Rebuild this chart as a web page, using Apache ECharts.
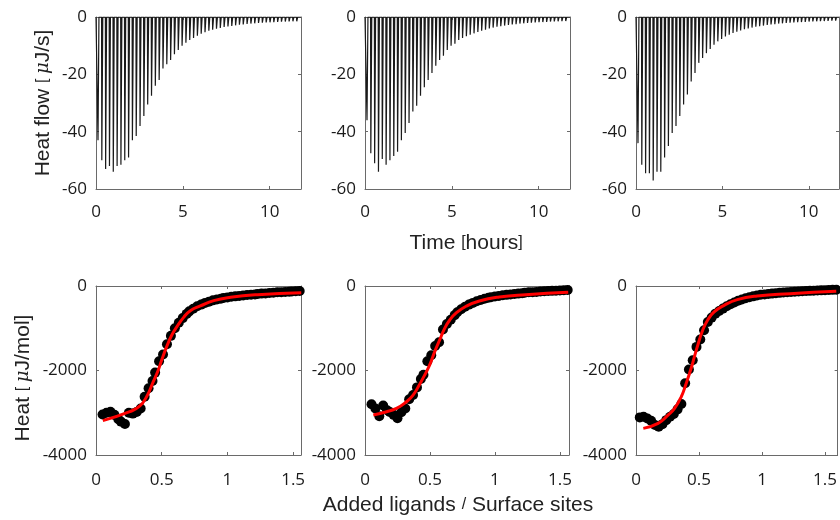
<!DOCTYPE html>
<html><head><meta charset="utf-8">
<script src="https://cdn.jsdelivr.net/npm/echarts@6/dist/echarts.min.js"></script>
<style>html,body{margin:0;padding:0;background:#fff}#c{width:840px;height:520px}</style>
</head><body><div id="c"></div>
<script>
// ---- Raw ITC thermograms (time in hours, heat flow in µJ/s) ----
const injectionTimes = [0.10,0.32,0.54,0.76,0.98,1.20,1.42,1.64,1.86,2.08,2.30,2.52,2.74,2.96,3.18,3.40,3.62,3.84,4.06,4.28,4.50,4.72,4.94,5.16,5.38,5.60,5.82,6.04,6.26,6.48,6.70,6.92,7.14,7.36,7.58,7.80,8.02,8.24,8.46,8.68,8.90,9.12,9.34,9.56,9.78,10.00,10.22,10.44,10.66,10.88,11.10,11.32,11.54];
const flowPeaks1 = [-43,-50,-53,-52,-54,-52,-51.5,-50,-49,-43,-41.5,-38,-34.5,-30.5,-27.5,-24,-22,-18,-16.5,-15,-13,-11.5,-10,-9,-8,-7.3,-6.5,-5.8,-5.3,-4.8,-4.4,-4.1,-3.8,-3.5,-3.3,-3.1,-2.9,-2.7,-2.6,-2.4,-2.3,-2.2,-2.1,-2.0,-1.9,-1.85,-1.8,-1.7,-1.65,-1.6,-1.55,-1.5,-1.5];
const flowPeaks2 = [-36,-47.5,-51,-54,-49.5,-51.5,-50,-48.5,-47,-43,-40.5,-37,-33,-31,-27.5,-24.5,-22,-19.5,-17,-15,-13.5,-11.5,-10,-9.3,-8,-7.3,-6.7,-6.2,-5.7,-5.2,-4.8,-4.4,-4.0,-3.7,-3.4,-3.2,-3.0,-2.8,-2.6,-2.5,-2.3,-2.2,-2.1,-2.0,-1.9,-1.8,-1.75,-1.7,-1.6,-1.55,-1.5,-1.45,-1.4];
const flowPeaks3 = [-44,-51.5,-54.5,-54.5,-57,-54,-54,-49,-45,-40.5,-38,-34.5,-30.5,-27,-22.5,-19.5,-16,-14.3,-12.6,-11.2,-9.7,-8.5,-7.7,-6.8,-6.2,-5.6,-5.1,-4.7,-4.3,-4.0,-3.7,-3.4,-3.2,-3.0,-2.8,-2.6,-2.5,-2.3,-2.2,-2.1,-2.0,-1.9,-1.8,-1.75,-1.7,-1.6,-1.55,-1.5,-1.45,-1.4,-1.35,-1.3,-1.3];

// ---- Integrated heats (molar ratio, µJ/mol) ----
const ratio1 = [0.05,0.08,0.11,0.14,0.17,0.19,0.22,0.25,0.28,0.31,0.34,0.37,0.40,0.43,0.45,0.48,0.51,0.54,0.57,0.60,0.63,0.66,0.69,0.71,0.74,0.77,0.80,0.83,0.86,0.89,0.92,0.95,0.97,1.00,1.03,1.06,1.09,1.12,1.15,1.18,1.21,1.23,1.26,1.29,1.32,1.35,1.38,1.41,1.44,1.47,1.49,1.52,1.55];
const heat1 = [-3040,-3000,-2975,-3050,-3155,-3210,-3265,-3000,-3020,-2980,-2900,-2620,-2420,-2250,-2050,-1780,-1620,-1380,-1180,-1000,-870,-760,-660,-600,-540,-480,-440,-400,-370,-340,-320,-300,-285,-270,-255,-245,-235,-225,-215,-205,-200,-190,-180,-175,-165,-160,-150,-145,-140,-135,-130,-125,-120];
const ratio2 = [0.05,0.08,0.11,0.14,0.17,0.19,0.22,0.25,0.28,0.31,0.34,0.37,0.40,0.43,0.45,0.48,0.51,0.54,0.57,0.60,0.63,0.66,0.69,0.71,0.74,0.77,0.80,0.83,0.86,0.89,0.92,0.95,0.97,1.00,1.03,1.06,1.09,1.12,1.15,1.18,1.21,1.23,1.26,1.29,1.32,1.35,1.38,1.41,1.44,1.47,1.50,1.53,1.56];
const heat2 = [-2800,-2900,-3080,-2830,-2940,-2980,-3050,-3130,-2990,-2900,-2680,-2580,-2400,-2200,-2100,-1780,-1640,-1420,-1330,-1030,-900,-800,-690,-620,-550,-490,-440,-400,-360,-330,-300,-280,-265,-250,-235,-220,-210,-200,-190,-180,-170,-160,-150,-145,-140,-130,-125,-120,-115,-110,-105,-100,-95];
const ratio3 = [0.03,0.06,0.09,0.12,0.15,0.18,0.21,0.24,0.27,0.30,0.33,0.36,0.39,0.42,0.45,0.48,0.51,0.54,0.57,0.60,0.63,0.66,0.69,0.72,0.75,0.78,0.81,0.84,0.87,0.90,0.93,0.96,0.99,1.02,1.05,1.08,1.11,1.14,1.17,1.20,1.23,1.26,1.29,1.32,1.35,1.38,1.41,1.44,1.47,1.50,1.53,1.56,1.59];
const heat3 = [-3110,-3095,-3135,-3190,-3290,-3330,-3270,-3175,-3095,-3030,-2920,-2795,-2300,-1976,-1756,-1441,-1268,-1047,-850,-748,-654,-590,-535,-480,-430,-390,-350,-320,-290,-265,-245,-225,-205,-200,-190,-180,-170,-162,-155,-148,-141,-135,-130,-125,-120,-115,-111,-107,-103,-99,-95,-91,-88];

// ---- Fitted curves (red) ----
const fitX1 = [0.052,0.257,0.334,0.385,0.436,0.474,0.50,0.538,0.577,0.616,0.667,0.718,0.794,0.896,1.024,1.229,1.562];
const fitY1 = [-3187,-2974,-2840,-2619,-2264,-1988,-1751,-1436,-1160,-962,-742,-584,-473,-347,-268,-205,-158];
const fitX2 = [0.064,0.166,0.242,0.319,0.370,0.421,0.459,0.497,0.536,0.574,0.612,0.651,0.702,0.778,0.880,1.033,1.237,1.564];
const fitY2 = [-3055,-2976,-2898,-2740,-2583,-2323,-2110,-1874,-1559,-1283,-1008,-811,-638,-480,-354,-260,-205,-150];
const fitX3 = [0.058,0.175,0.254,0.306,0.359,0.398,0.437,0.463,0.490,0.529,0.568,0.620,0.699,0.804,0.961,1.223,1.589];
const fitY3 = [-3370,-3252,-3055,-2898,-2622,-2307,-1953,-1677,-1402,-1047,-811,-614,-457,-323,-236,-181,-126];

// ---- Axis settings ----
const timeMax = [11.8, 11.8, 11.75];
const ratioMax = [1.56, 1.57, 1.6];
const timeInterval = 5, flowMin = -60, flowInterval = 20;
const ratioInterval = 0.5, heatMin = -4000, heatInterval = 2000;

const LBL_FONT = '"Open Sans", "DejaVu Sans", sans-serif';
const TTL_FONT = '"Liberation Sans", Arial, sans-serif';
const AX = '#6a6a6a';

const topGrids = [{left:96,width:205},{left:365,width:205},{left:636,width:203}];
const botGrids = [{left:96,width:205},{left:365,width:204},{left:636,width:203}];

const grid = [], xAxis = [], yAxis = [], series = [];
const plain = v => String(v);

function addPanel(g, top, height, xmax, xint, ymin, yint, xMargin) {
  const gi = grid.length;
  grid.push({left:g.left, width:g.width, top:top, height:height, containLabel:false});
  const tick = {show:true, inside:true, length:3, lineStyle:{color:AX, width:1}};
  const line = {show:true, onZero:false, lineStyle:{color:AX, width:1}};
  const lbl = {color:'#1a1a1a', fontFamily:LBL_FONT, fontSize:17, formatter:plain};
  xAxis.push({type:'value', gridIndex:gi, position:'bottom', min:0, max:xmax, interval:xint,
    axisLine:line, axisTick:tick, splitLine:{show:false},
    axisLabel:Object.assign({margin:xMargin, showMaxLabel:false}, lbl)});
  xAxis.push({type:'value', gridIndex:gi, position:'top', min:0, max:xmax, interval:xint,
    axisLine:line, axisTick:tick, splitLine:{show:false}, axisLabel:{show:false}});
  yAxis.push({type:'value', gridIndex:gi, position:'left', min:ymin, max:0, interval:yint,
    axisLine:line, axisTick:tick, splitLine:{show:false},
    axisLabel:Object.assign({margin:9}, lbl)});
  yAxis.push({type:'value', gridIndex:gi, position:'right', min:ymin, max:0, interval:yint,
    axisLine:line, axisTick:tick, splitLine:{show:false}, axisLabel:{show:false}});
  return {x: xAxis.length - 2, y: yAxis.length - 2};
}

function spikeData(peaks, tmax) {
  const d = [[0, 0]];
  injectionTimes.forEach((t, i) => { d.push([t, 0], [t + 0.015, peaks[i]], [t + 0.07, 0]); });
  d.push([tmax, 0]);
  return d;
}

const flows = [flowPeaks1, flowPeaks2, flowPeaks3];
const ratios = [ratio1, ratio2, ratio3];
const heats = [heat1, heat2, heat3];
const fitXs = [fitX1, fitX2, fitX3];
const fitYs = [fitY1, fitY2, fitY3];

for (let p = 0; p < 3; p++) {
  const a = addPanel(topGrids[p], 17, 172, timeMax[p], timeInterval, flowMin, flowInterval, 15);
  series.push({type:'line', xAxisIndex:a.x, yAxisIndex:a.y, data:spikeData(flows[p], timeMax[p]),
    showSymbol:false, symbol:'none', lineStyle:{color:'#1a1a1a', width:1.2}, animation:false, clip:true});
}
for (let p = 0; p < 3; p++) {
  const a = addPanel(botGrids[p], 286, 169, ratioMax[p], ratioInterval, heatMin, heatInterval, 17);
  series.push({type:'scatter', xAxisIndex:a.x, yAxisIndex:a.y,
    data:ratios[p].map((r, i) => [r, heats[p][i]]),
    symbol:'circle', symbolSize:10, itemStyle:{color:'#000', opacity:1}, animation:false, z:2});
  series.push({type:'line', xAxisIndex:a.x, yAxisIndex:a.y,
    data:fitXs[p].map((r, i) => [r, fitYs[p][i]]),
    smooth:true, showSymbol:false, symbol:'none', lineStyle:{color:'#ff0000', width:3}, animation:false, z:3});
}

const big = {fontFamily:TTL_FONT, fontSize:21, fill:'#222'};
const small = {fontFamily:TTL_FONT, fontSize:16, fill:'#222'};
const mu = {fontFamily:'"DejaVu Serif", serif', fontSize:18, fontStyle:'italic', fill:'#222'};

const graphic = [
  {type:'text', x:43, y:103, rotation:Math.PI/2,
   style:{text:'{a|Heat flow }{b|[ }{m|μ}{a|J/s]}', rich:{a:big, b:small, m:mu}, align:'center', verticalAlign:'middle'}},
  {type:'text', x:466, y:243,
   style:{text:'{a|Time }{b|[}{a|hours}{b|]}', rich:{a:big, b:small}, align:'center', verticalAlign:'middle'}},
  {type:'text', x:23, y:378, rotation:Math.PI/2,
   style:{text:'{a|Heat }{b|[ }{m|μ}{a|J/mol]}', rich:{a:big, b:small, m:mu}, align:'center', verticalAlign:'middle'}},
  {type:'text', x:458, y:505,
   style:{text:'{a|Added ligands }{b|/}{a| Surface sites}', rich:{a:big, b:small}, align:'center', verticalAlign:'middle'}}
];

const chart = echarts.init(document.getElementById('c'), null, {renderer:'canvas'});
chart.setOption({animation:false, backgroundColor:'#fff', grid, xAxis, yAxis, series, graphic});
</script></body></html>
